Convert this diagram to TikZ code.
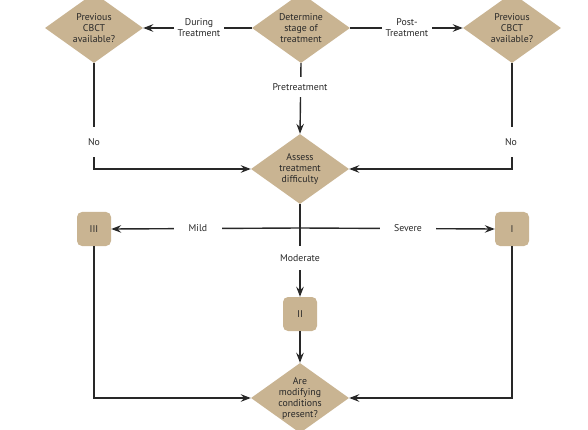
\documentclass[tikz,border=0pt]{standalone}
\usepackage{fontspec}
\setmainfont{PT Sans}
\usetikzlibrary{arrows.meta,shapes.geometric}
\definecolor{tan}{RGB}{201,180,146}
\definecolor{ink}{RGB}{40,40,40}
\begin{document}
\begin{tikzpicture}[x=1pt,y=-1pt,
  diam/.style={diamond,fill=tan,draw=none,inner sep=0pt,minimum width=98pt,minimum height=70pt},
  txt/.style={align=center,font=\fontsize{9.8}{11}\selectfont,text=ink,inner sep=0pt},
  lvl/.style={rounded corners=5pt,fill=tan,draw=none,minimum width=34pt,minimum height=34pt,inner sep=0pt,font=\fontsize{9.8}{11}\selectfont,text=ink},
  lab/.style={align=center,font=\fontsize{9.8}{11}\selectfont,text=ink,fill=white,inner ysep=2pt},
  conn/.style={draw=ink,line width=1.4pt},
  arr/.style={conn,-{Stealth[length=10pt,width=7.5pt,inset=3.5pt]}}]
\useasboundingbox (0,0) rectangle (588,430);
\fill[white] (0,0) rectangle (588,430);
% nodes
\node[diam] (top) at (301,28) {};
\node[txt] (toptxt) at (top) {Determine\\stage of\\treatment};
\node[diam] (left) at (94,28) {};
\node[txt] (lefttxt) at (left) {Previous\\CBCT\\available?};
\node[diam] (right) at (512,28) {};
\node[txt] (righttxt) at (right) {Previous\\CBCT\\available?};
\node[diam] (assess) at (300,169) {};
\node[txt] (assesstxt) at (assess) {Assess\\treatment\\difficulty};
\node[diam] (mod) at (300,398) {};
\node[txt] (modtxt) at (mod) {Are\\modifying\\conditions\\present?};
\node[lvl] (III) at (94,229) {III};
\node[lvl] (I) at (512,229) {I};
\node[lvl] (II) at (300,314) {II};
\coordinate (cross) at (300,228);
\coordinate (lc) at (94,169);
\coordinate (rc) at (512,169);
\coordinate (lb) at (94,398);
\coordinate (rb) at (512,398);
% connectors
\draw[arr] (top.west) -- (left.east);
\draw[arr] (top.east) -- (right.west);
\draw[arr] (top.south) -- (assess.north);
\draw[arr] (left.south) -- (lc) -- (assess.west);
\draw[arr] (right.south) -- (rc) -- (assess.east);
\draw[conn] (assess.south) -- (cross);
\draw[arr] (cross) -- (II.north);
\draw[arr] (cross) -- (III.east);
\draw[arr] (cross) -- (I.west);
\draw[arr] (III.south) -- (lb) -- (mod.west);
\draw[arr] (I.south) -- (rb) -- (mod.east);
\draw[arr] (II.south) -- (mod.north);
% labels
\node[lab,inner xsep=4pt] (during) at (199,28) {During\\Treatment};
\node[lab,inner xsep=4pt] (post) at (407,28) {Post-\\Treatment};
\node[lab,inner xsep=3pt,inner ysep=6pt] (pre) at (300,87) {Pretreatment};
\node[lab,inner xsep=3pt,inner ysep=11pt] (nol) at (94,142) {No};
\node[lab,inner xsep=3pt,inner ysep=11pt] (nor) at (511,142) {No};
\node[lab,inner xsep=15pt] (mild) at (198,228) {Mild};
\node[lab,inner xsep=14pt] (severe) at (408,228) {Severe};
\node[lab,inner xsep=3pt,inner ysep=9pt] (moderate) at (300,258) {Moderate};
\end{tikzpicture}
\end{document}
